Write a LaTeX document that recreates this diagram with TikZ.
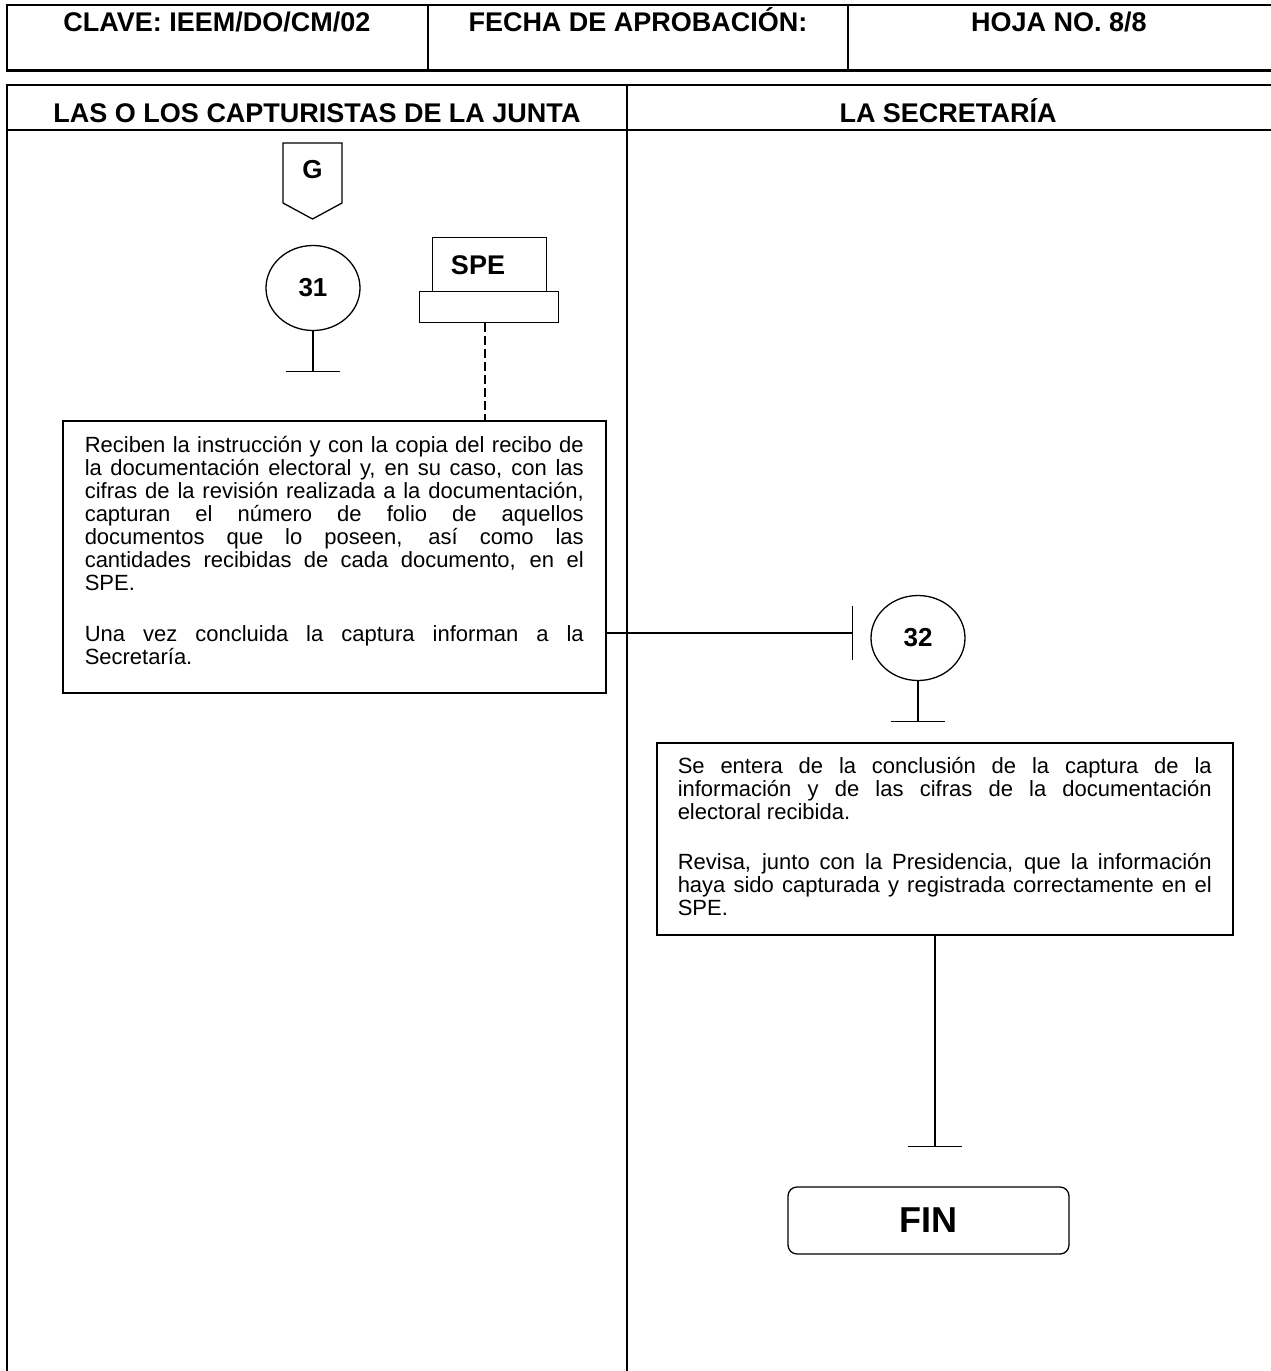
\documentclass[tikz,border=0pt]{standalone}
\usepackage{fontspec}
\setmainfont{Liberation Sans}
\usetikzlibrary{arrows.meta,shapes.geometric,calc}
\newcommand{\bodyfont}{\fontsize{22}{23}\selectfont\setlength{\lineskiplimit}{-100pt}\tolerance=10000 \hyphenpenalty=10000 }
\begin{document}
\begin{tikzpicture}[x=1pt,y=-1pt]
\tikzset{
  frame/.style={line width=2.6pt},
  divline/.style={line width=1.3pt},
  lanediv/.style={line width=2pt},
  hdr/.style={font=\fontsize{27}{30}\selectfont\bfseries, anchor=base, inner sep=0pt},
  stepcirc/.style={draw, ellipse, line width=1.3pt, minimum width=94pt, minimum height=85pt, inner sep=0pt, font=\fontsize{26}{28}\selectfont\bfseries},
  procbox/.style={draw, line width=1.5pt, anchor=north west, align=justify, inner ysep=0pt, font=\bodyfont},
  ender/.style={line width=1.3pt, -{Bar[width=54pt,line width=1.3pt]}},
  plainbox/.style={draw, line width=1.3pt, inner sep=0pt, anchor=north west},
}
\useasboundingbox (0,0) rectangle (1270,1371);
% header table
\draw[frame] (5.7,5) -- (1272,5);
\draw[frame] (5.7,70.5) -- (1272,70.5);
\draw[frame] (7,3.7) -- (7,71.8);
\draw[divline] (428,5) -- (428,70.5);
\draw[divline] (848,5) -- (848,70.5);
\node[hdr] (h1) at (217,31) {CLAVE: IEEM/DO/CM/02};
\node[hdr] (h2) at (638,31) {FECHA DE APROBACIÓN:};
\node[hdr] (h3) at (1059,31) {HOJA NO. 8/8};
% lanes table
\draw[frame] (5.7,85) -- (1272,85);
\draw[frame] (5.7,130) -- (1272,130);
\draw[frame] (7,83.7) -- (7,1375);
\draw[lanediv] (627,85) -- (627,1375);
\node[hdr] (l1) at (317,122) {LAS O LOS CAPTURISTAS DE LA JUNTA};
\node[hdr] (l2) at (948,122) {LA SECRETARÍA};
% off-page connector G
\draw[line width=1.3pt] (283,143) -- (342,143) -- (342,203) -- (312.5,219) -- (283,203) -- cycle;
\node[font=\fontsize{26}{28}\selectfont\bfseries] (G) at (312.5,170) {G};
% step 31
\node[stepcirc] (c31) at (313,288) {31};
\coordinate (e31) at (313,372);
\draw[ender] (c31.south) -- (e31);
% SPE
\node[plainbox, minimum width=114pt, minimum height=54pt] (spetop) at (432,237) {};
\node[font=\fontsize{27}{29}\selectfont\bfseries] (spetxt) at (478,265) {SPE};
\node[plainbox, minimum width=139pt, minimum height=31pt] (spebase) at (419,291) {};
\coordinate (dl) at (485,0);
% left process box
\node[procbox, text width=499pt, inner xsep=22pt] (lbox) at (62,420) {\rule{0pt}{32pt}Reciben la instrucción y con la copia del recibo de\linebreak la documentación electoral y, en su caso, con las\linebreak cifras de la revisión realizada a la documentación,\linebreak capturan el número de folio de aquellos\linebreak documentos que lo poseen, así como las\linebreak cantidades recibidas de cada documento, en el\linebreak SPE.\par\vspace{28pt}Una vez concluida la captura informan a la\linebreak Secretaría.\rule[-28pt]{0pt}{28pt}};
\draw[line width=1.1pt, dash pattern=on 9pt off 4pt] (spebase.south -| dl) -- (lbox.north -| dl);
% connector to 32
\coordinate (b32) at (853,633);
\draw[ender] (lbox.east |- b32) -- (b32);
% step 32
\node[stepcirc] (c32) at (918,638) {32};
\coordinate (e32) at (918,722);
\draw[ender] (c32.south) -- (e32);
% right process box
\node[procbox, text width=534pt, inner xsep=21pt] (rbox) at (656,742) {\rule{0pt}{31pt}Se entera de la conclusión de la captura de la\linebreak información y de las cifras de la documentación\linebreak electoral recibida.\par\vspace{27pt}Revisa, junto con la Presidencia, que la información\linebreak haya sido capturada y registrada correctamente en el\linebreak SPE.\rule[-19pt]{0pt}{19pt}};
\coordinate (efin) at (935,1147);
\draw[ender] (rbox.south -| efin) -- (efin);
% FIN
\node[draw, rounded corners=9pt, line width=1.3pt, minimum width=281pt, minimum height=67pt, inner sep=0pt, font=\fontsize{36}{38}\selectfont\bfseries] (fin) at (928.5,1220.5) {FIN};
\end{tikzpicture}
\end{document}
